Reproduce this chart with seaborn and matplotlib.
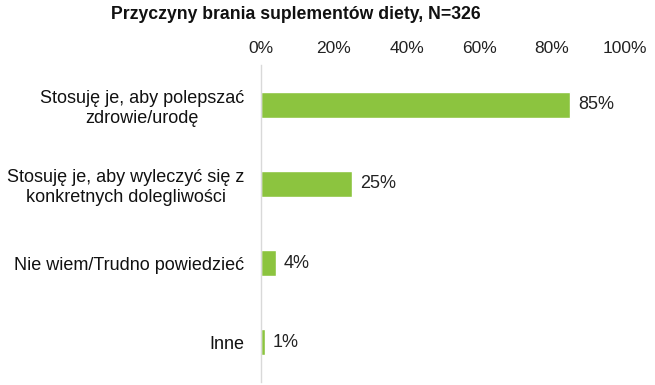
import pandas as pd
import matplotlib
matplotlib.use("Agg")
import matplotlib.pyplot as plt
import seaborn as sns
from matplotlib.ticker import PercentFormatter

# Data
categories = [
    "Stosuję je, aby polepszać\nzdrowie/urodę",
    "Stosuję je, aby wyleczyć się z\nkonkretnych dolegliwości",
    "Nie wiem/Trudno powiedzieć",
    "Inne",
]
values = [85, 25, 4, 1]
x_ticks = [0, 20, 40, 60, 80, 100]
title = "Przyczyny brania suplementów diety, N=326"

sns.set_style("white")
plt.rcParams['font.family'] = ['Liberation Sans', 'DejaVu Sans']

df = pd.DataFrame({"Powód": categories, "Procent": values})

fig = plt.figure(figsize=(6.55, 3.85), dpi=100)
ax = fig.add_axes([0.3985, 0.009, 0.5555, 0.821])

sns.barplot(data=df, x="Procent", y="Powód", orient="h", color="#8cc43f",
            saturation=1, width=0.34, ax=ax)

ax.set_xlim(0, 100)
ax.set_ylim(3.5, -0.5)
ax.set_xticks(x_ticks)
ax.xaxis.set_major_formatter(PercentFormatter(decimals=0))
ax.xaxis.tick_top()
ax.tick_params(axis='x', length=0, labelsize=12.5, labelcolor='#222222', pad=7)
ax.tick_params(axis='y', length=0, labelsize=13, labelcolor='#111111', pad=12)
for lbl in ax.get_yticklabels():
    lbl.set_multialignment('center')
ax.set_xlabel("")
ax.set_ylabel("")

for side in ["top", "right", "bottom"]:
    ax.spines[side].set_visible(False)
ax.spines["left"].set_color("#d9d9d9")
ax.spines["left"].set_linewidth(1)

ax.bar_label(ax.containers[0], labels=[f"{v}%" for v in values],
             padding=6, fontsize=13, color='#222222')

fig.suptitle(title, x=0.452, y=0.985, fontsize=12.7, fontweight='bold', color='#111111')

plt.savefig("out.png", dpi=100)
plt.close()
